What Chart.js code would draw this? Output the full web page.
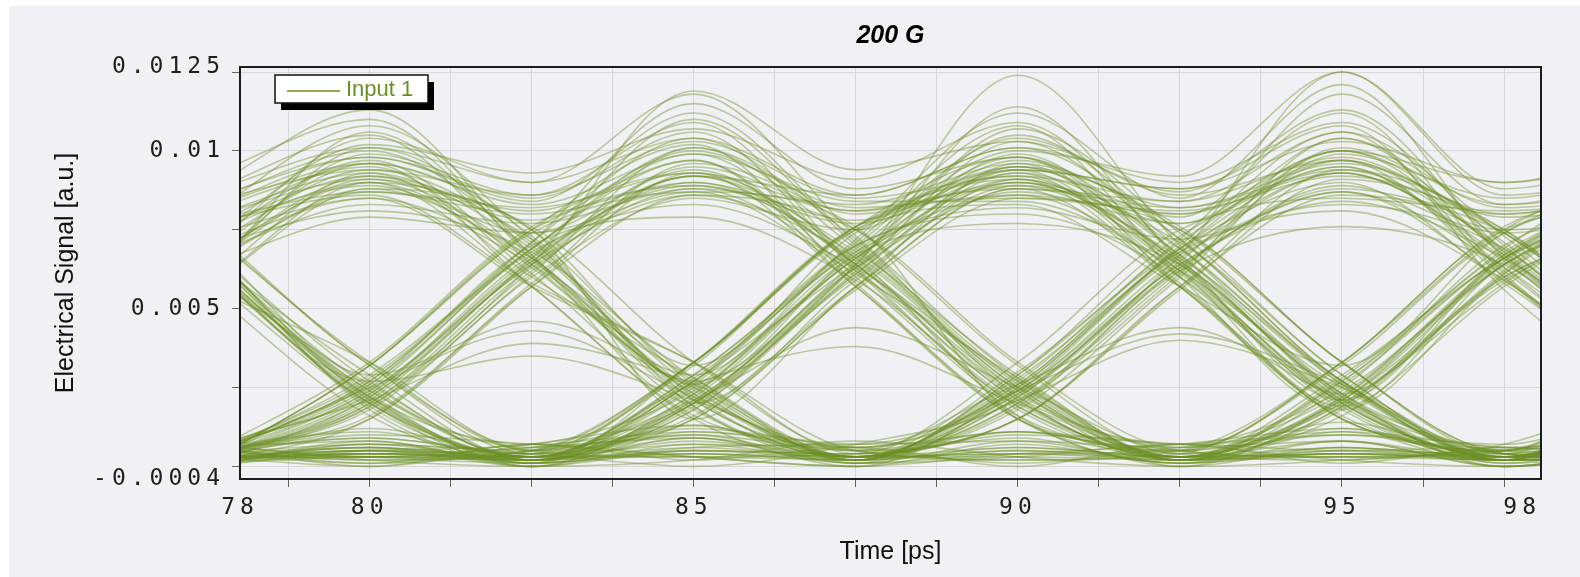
<!DOCTYPE html>
<html lang="en">
<head>
    <meta charset="UTF-8">
    <title>200 G</title>
    <style>
        body {
            margin: 0;
            background: #ffffff;
        }
        #wrap {
            position: absolute;
            left: 9px;
            top: 6px;
            width: 1571px;
            height: 571px;
            background: #f1f0f4;
        }
    </style>
</head>
<body>
    <div id="wrap">
        <canvas id="eyeGraph"></canvas>
    </div>

    <script src="https://cdn.jsdelivr.net/npm/chart.js@4.4.1/dist/chart.umd.min.js"></script>
    <script>

    const chartTitle = "200 G";
    const seriesName = "Input 1";
    const xTitle = "Time [ps]";
    const yTitle = "Electrical Signal [a.u.]";

    // sample instants of every sweep (ps)
    const sampleTimes = [77.5, 80, 82.5, 85, 87.5, 90, 92.5, 95, 97.5, 100];

    // one sweep of the eye per array, values at sampleTimes
    const trace01 = [0.0066, 0.0092, 0.0078, 0.0101, 0.0069, 0.0025, 0.0003, 0.0006, 0.0002, 0.0023];
    const trace02 = [0.0003, 0.0020, 0.0063, 0.0088, 0.0062, 0.0021, 0.0002, 0.0027, 0.0068, 0.0090];
    const trace03 = [0.0002, 0.0004, 0.0003, 0.0027, 0.0070, 0.0104, 0.0086, 0.0097, 0.0060, 0.0022];
    const trace04 = [0.0080, 0.0108, 0.0072, 0.0019, 0.0002, 0.0005, 0.0003, 0.0029, 0.0066, 0.0085];
    const trace05 = [0.0061, 0.0026, 0.0002, 0.0018, 0.0061, 0.0095, 0.0079, 0.0118, 0.0083, 0.0096];
    const trace06 = [0.0004, 0.0028, 0.0071, 0.0115, 0.0088, 0.0098, 0.0063, 0.0020, 0.0003, 0.0004];
    const trace07 = [0.0070, 0.0085, 0.0064, 0.0024, 0.0003, 0.0030, 0.0069, 0.0090, 0.0058, 0.0021];
    const trace08 = [0.0003, 0.0006, 0.0002, 0.0008, 0.0003, 0.0022, 0.0067, 0.0125, 0.0088, 0.0100];
    const trace09 = [0.0085, 0.0098, 0.0084, 0.0112, 0.0071, 0.0027, 0.0003, 0.0004, 0.0002, 0.0005];
    const trace10 = [0.0002, 0.0025, 0.0043, 0.0022, 0.0003, 0.0019, 0.0062, 0.0076, 0.0064, 0.0026];
    const trace11 = [0.0068, 0.0019, 0.0003, 0.0007, 0.0002, 0.0028, 0.0068, 0.0093, 0.0075, 0.0082];
    const trace12 = [0.0003, 0.0003, 0.0002, 0.0021, 0.0064, 0.0124, 0.0070, 0.0026, 0.0003, 0.0022];
    const trace13 = [0.0088, 0.0113, 0.0067, 0.0020, 0.0059, 0.0091, 0.0077, 0.0104, 0.0067, 0.0028];
    const trace14 = [0.0064, 0.0079, 0.0074, 0.0095, 0.0081, 0.0089, 0.0071, 0.0029, 0.0002, 0.0003];
    const trace15 = [0.0002, 0.0005, 0.0001, 0.0004, 0.0002, 0.0006, 0.0003, 0.0020, 0.0059, 0.0080];
    const trace16 = [0.0003, 0.0027, 0.0069, 0.0097, 0.0060, 0.0018, 0.0002, 0.0004, 0.0002, 0.0026];
    const trace17 = [0.0063, 0.0021, 0.0003, 0.0026, 0.0072, 0.0112, 0.0085, 0.0121, 0.0066, 0.0029];
    const trace18 = [0.0076, 0.0089, 0.0065, 0.0027, 0.0002, 0.0021, 0.0040, 0.0025, 0.0002, 0.0004];
    const trace19 = [0.0003, 0.0004, 0.0003, 0.0029, 0.0068, 0.0086, 0.0061, 0.0019, 0.0002, 0.0028];
    const trace20 = [0.0062, 0.0101, 0.0073, 0.0026, 0.0003, 0.0003, 0.0002, 0.0018, 0.0060, 0.0078];
    const trace21 = [0.0002, 0.0019, 0.0062, 0.0092, 0.0086, 0.0101, 0.0090, 0.0109, 0.0070, 0.0027];
    const trace22 = [0.0071, 0.0029, 0.0046, 0.0025, 0.0002, 0.0005, 0.0002, 0.0004, 0.0003, 0.0021];
    const trace23 = [0.0002, 0.0006, 0.0003, 0.0018, 0.0063, 0.0099, 0.0064, 0.0023, 0.0067, 0.0088];
    const trace24 = [0.0081, 0.0095, 0.0061, 0.0018, 0.0003, 0.0027, 0.0071, 0.0097, 0.0068, 0.0027];
    const trace25 = [0.0004, 0.0026, 0.0070, 0.0079, 0.0059, 0.0020, 0.0003, 0.0021, 0.0061, 0.0094];
    const trace26 = [0.0069, 0.0104, 0.0090, 0.0118, 0.0073, 0.0028, 0.0002, 0.0003, 0.0002, 0.0004];
    const trace27 = [0.0003, 0.0005, 0.0002, 0.0006, 0.0003, 0.0020, 0.0063, 0.0088, 0.0080, 0.0092];
    const trace28 = [0.0060, 0.0020, 0.0002, 0.0020, 0.0065, 0.0105, 0.0072, 0.0027, 0.0002, 0.0003];
    const trace29 = [0.0078, 0.0087, 0.0080, 0.0090, 0.0078, 0.0094, 0.0060, 0.0020, 0.0003, 0.0025];
    const trace30 = [0.0002, 0.0022, 0.0066, 0.0110, 0.0070, 0.0026, 0.0003, 0.0008, 0.0002, 0.0019];
    const trace31 = [0.0069, 0.0027, 0.0002, 0.0004, 0.0003, 0.0025, 0.0070, 0.0106, 0.0060, 0.0018];
    const trace32 = [0.0003, 0.0004, 0.0002, 0.0026, 0.0038, 0.0020, 0.0003, 0.0027, 0.0066, 0.0083];
    const trace33 = [0.0072, 0.0097, 0.0063, 0.0029, 0.0070, 0.0082, 0.0072, 0.0087, 0.0059, 0.0020];
    const trace34 = [0.0003, 0.0018, 0.0060, 0.0085, 0.0075, 0.0107, 0.0074, 0.0029, 0.0003, 0.0004];
    const trace35 = [0.0092, 0.0110, 0.0066, 0.0021, 0.0003, 0.0004, 0.0002, 0.0019, 0.0062, 0.0097];
    const trace36 = [0.0002, 0.0003, 0.0003, 0.0023, 0.0067, 0.0077, 0.0064, 0.0022, 0.0002, 0.0027];
    const trace37 = [0.0063, 0.0024, 0.0003, 0.0028, 0.0069, 0.0100, 0.0092, 0.0125, 0.0086, 0.0094];
    const trace38 = [0.0003, 0.0024, 0.0064, 0.0092, 0.0068, 0.0029, 0.0002, 0.0012, 0.0003, 0.0006];
    const trace39 = [0.0067, 0.0083, 0.0077, 0.0088, 0.0083, 0.0096, 0.0062, 0.0019, 0.0064, 0.0081];
    const trace40 = [0.0002, 0.0004, 0.0002, 0.0019, 0.0061, 0.0093, 0.0069, 0.0026, 0.0003, 0.0020];
    const trace41 = [0.0084, 0.0100, 0.0070, 0.0025, 0.0002, 0.0022, 0.0064, 0.0084, 0.0066, 0.0029];
    const trace42 = [0.0003, 0.0027, 0.0071, 0.0104, 0.0080, 0.0090, 0.0065, 0.0023, 0.0002, 0.0003];
    const trace43 = [0.0065, 0.0022, 0.0002, 0.0009, 0.0003, 0.0018, 0.0060, 0.0101, 0.0083, 0.0090];
    const trace44 = [0.0002, 0.0021, 0.0065, 0.0094, 0.0064, 0.0024, 0.0002, 0.0025, 0.0070, 0.0087];
    const trace45 = [0.0070, 0.0081, 0.0068, 0.0028, 0.0003, 0.0006, 0.0003, 0.0020, 0.0058, 0.0091];
    const trace46 = [0.0059, 0.0093, 0.0069, 0.0022, 0.0002, 0.0029, 0.0072, 0.0112, 0.0061, 0.0021];
    const trace47 = [0.0004, 0.0007, 0.0002, 0.0025, 0.0066, 0.0097, 0.0082, 0.0094, 0.0069, 0.0026];
    const trace48 = [0.0067, 0.0025, 0.0003, 0.0021, 0.0064, 0.0114, 0.0065, 0.0020, 0.0003, 0.0004];
    const trace49 = [0.0082, 0.0098, 0.0085, 0.0106, 0.0062, 0.0019, 0.0003, 0.0022, 0.0064, 0.0085];
    const trace50 = [0.0002, 0.0023, 0.0067, 0.0089, 0.0067, 0.0025, 0.0002, 0.0005, 0.0002, 0.0028];
    const trace51 = [0.0064, 0.0088, 0.0066, 0.0027, 0.0063, 0.0087, 0.0077, 0.0097, 0.0080, 0.0089];
    const trace52 = [0.0003, 0.0003, 0.0002, 0.0005, 0.0003, 0.0026, 0.0068, 0.0081, 0.0059, 0.0019];
    const trace53 = [0.0070, 0.0018, 0.0002, 0.0022, 0.0066, 0.0090, 0.0066, 0.0027, 0.0003, 0.0021];
    const trace54 = [0.0087, 0.0105, 0.0064, 0.0023, 0.0003, 0.0023, 0.0063, 0.0089, 0.0074, 0.0083];
    const trace55 = [0.0002, 0.0020, 0.0064, 0.0119, 0.0094, 0.0103, 0.0069, 0.0027, 0.0002, 0.0003];
    const trace56 = [0.0062, 0.0027, 0.0035, 0.0021, 0.0003, 0.0004, 0.0003, 0.0026, 0.0067, 0.0093];
    const trace57 = [0.0003, 0.0005, 0.0003, 0.0029, 0.0071, 0.0108, 0.0060, 0.0018, 0.0060, 0.0079];
    const trace58 = [0.0068, 0.0096, 0.0083, 0.0099, 0.0064, 0.0021, 0.0002, 0.0019, 0.0061, 0.0099];
    const trace59 = [0.0004, 0.0025, 0.0068, 0.0083, 0.0063, 0.0027, 0.0003, 0.0004, 0.0003, 0.0024];
    const trace60 = [0.0075, 0.0092, 0.0072, 0.0026, 0.0068, 0.0098, 0.0067, 0.0021, 0.0003, 0.0005];
    const trace61 = [0.0066, 0.0029, 0.0002, 0.0020, 0.0063, 0.0090, 0.0080, 0.0100, 0.0071, 0.0028];
    const trace62 = [0.0002, 0.0004, 0.0003, 0.0003, 0.0002, 0.0029, 0.0073, 0.0093, 0.0065, 0.0022];
    const trace63 = [0.0061, 0.0106, 0.0067, 0.0019, 0.0003, 0.0020, 0.0061, 0.0104, 0.0082, 0.0088];
    const trace64 = [0.0003, 0.0029, 0.0069, 0.0099, 0.0084, 0.0084, 0.0062, 0.0025, 0.0002, 0.0026];
    const trace65 = [0.0064, 0.0020, 0.0003, 0.0004, 0.0002, 0.0024, 0.0042, 0.0026, 0.0003, 0.0004];
    const trace66 = [0.0079, 0.0093, 0.0060, 0.0028, 0.0003, 0.0026, 0.0069, 0.0095, 0.0063, 0.0019];
    const trace67 = [0.0003, 0.0019, 0.0061, 0.0101, 0.0072, 0.0022, 0.0002, 0.0028, 0.0069, 0.0102];
    const trace68 = [0.0067, 0.0090, 0.0074, 0.0087, 0.0061, 0.0028, 0.0002, 0.0006, 0.0003, 0.0020];
    const trace69 = [0.0002, 0.0006, 0.0003, 0.0020, 0.0062, 0.0103, 0.0087, 0.0113, 0.0068, 0.0027];
    const trace70 = [0.0069, 0.0021, 0.0003, 0.0027, 0.0070, 0.0080, 0.0060, 0.0018, 0.0002, 0.0023];
    const trace71 = [0.0065, 0.0087, 0.0082, 0.0093, 0.0066, 0.0016, 0.0001, 0.0005, 0.0004, 0.0032];
    const trace72 = [0.0005, 0.0016, 0.0058, 0.0096, 0.0075, 0.0032, 0.0004, 0.0016, 0.0057, 0.0086];
    const trace73 = [0.0001, 0.0003, 0.0005, 0.0033, 0.0075, 0.0092, 0.0084, 0.0106, 0.0073, 0.0031];
    const trace74 = [0.0074, 0.0090, 0.0057, 0.0015, 0.0001, 0.0004, 0.0005, 0.0032, 0.0074, 0.0088];
    const trace75 = [0.0074, 0.0033, 0.0005, 0.0016, 0.0057, 0.0088, 0.0084, 0.0098, 0.0079, 0.0085];
    const trace76 = [0.0001, 0.0032, 0.0075, 0.0089, 0.0077, 0.0093, 0.0058, 0.0015, 0.0005, 0.0002];
    const trace77 = [0.0057, 0.0090, 0.0076, 0.0033, 0.0005, 0.0015, 0.0057, 0.0086, 0.0074, 0.0032];
    const trace78 = [0.0007, 0.0000, 0.0007, 0.0003, 0.0000, 0.0025, 0.0069, 0.0100, 0.0090, 0.0104];
    const trace79 = [0.0079, 0.0091, 0.0081, 0.0097, 0.0057, 0.0015, 0.0005, 0.0003, 0.0004, 0.0002];
    const trace80 = [0.0005, 0.0021, 0.0039, 0.0026, 0.0001, 0.0024, 0.0067, 0.0083, 0.0069, 0.0025];
    const trace81 = [0.0056, 0.0016, 0.0001, 0.0005, 0.0004, 0.0033, 0.0075, 0.0085, 0.0081, 0.0087];
    const trace82 = [0.0005, 0.0002, 0.0004, 0.0032, 0.0076, 0.0088, 0.0057, 0.0016, 0.0005, 0.0033];
    const trace83 = [0.0082, 0.0096, 0.0075, 0.0032, 0.0074, 0.0094, 0.0088, 0.0108, 0.0056, 0.0015];
    const trace84 = [0.0070, 0.0094, 0.0086, 0.0103, 0.0085, 0.0092, 0.0062, 0.0021, 0.0004, 0.0001];
    const trace85 = [0.0005, 0.0009, 0.0004, 0.0010, 0.0005, 0.0011, 0.0004, 0.0021, 0.0066, 0.0092];
    const trace86 = [0.0001, 0.0015, 0.0057, 0.0086, 0.0075, 0.0033, 0.0005, 0.0003, 0.0005, 0.0015];
    const trace87 = [0.0075, 0.0032, 0.0004, 0.0015, 0.0056, 0.0085, 0.0081, 0.0092, 0.0074, 0.0032];
    const trace88 = [0.0084, 0.0094, 0.0071, 0.0021, 0.0005, 0.0026, 0.0044, 0.0021, 0.0004, 0.0002];
    const trace89 = [0.0004, 0.0001, 0.0005, 0.0015, 0.0057, 0.0096, 0.0075, 0.0033, 0.0004, 0.0016];
    const trace90 = [0.0076, 0.0096, 0.0057, 0.0016, 0.0005, 0.0002, 0.0004, 0.0033, 0.0075, 0.0095];
    const trace91 = [0.0005, 0.0026, 0.0069, 0.0100, 0.0082, 0.0086, 0.0080, 0.0095, 0.0062, 0.0021];
    const trace92 = [0.0063, 0.0020, 0.0000, 0.0002, 0.0008, 0.0003, 0.0000, 0.0002, 0.0007, 0.0026];
    const trace93 = [0.0005, 0.0002, 0.0005, 0.0033, 0.0075, 0.0083, 0.0057, 0.0032, 0.0074, 0.0093];
    const trace94 = [0.0077, 0.0086, 0.0058, 0.0033, 0.0004, 0.0015, 0.0056, 0.0091, 0.0075, 0.0032];
    const trace95 = [0.0001, 0.0032, 0.0074, 0.0087, 0.0076, 0.0015, 0.0005, 0.0033, 0.0075, 0.0083];
    const trace96 = [0.0064, 0.0099, 0.0086, 0.0109, 0.0063, 0.0019, 0.0004, 0.0002, 0.0005, 0.0001];
    const trace97 = [0.0000, 0.0007, 0.0004, 0.0000, 0.0007, 0.0021, 0.0062, 0.0099, 0.0085, 0.0096];
    const trace98 = [0.0057, 0.0033, 0.0005, 0.0033, 0.0076, 0.0098, 0.0057, 0.0015, 0.0004, 0.0002];
    const trace99 = [0.0087, 0.0101, 0.0090, 0.0104, 0.0086, 0.0101, 0.0072, 0.0027, 0.0005, 0.0021];
    const trace100 = [0.0004, 0.0033, 0.0076, 0.0093, 0.0057, 0.0015, 0.0001, 0.0004, 0.0005, 0.0033];
    const trace101 = [0.0076, 0.0032, 0.0005, 0.0003, 0.0004, 0.0015, 0.0057, 0.0094, 0.0075, 0.0032];
    const trace102 = [0.0001, 0.0005, 0.0004, 0.0021, 0.0044, 0.0025, 0.0005, 0.0021, 0.0064, 0.0090];
    const trace103 = [0.0057, 0.0088, 0.0075, 0.0015, 0.0057, 0.0088, 0.0082, 0.0096, 0.0074, 0.0033];
    const trace104 = [0.0005, 0.0015, 0.0057, 0.0093, 0.0081, 0.0095, 0.0076, 0.0033, 0.0004, 0.0002];
    const trace105 = [0.0073, 0.0085, 0.0057, 0.0033, 0.0005, 0.0002, 0.0005, 0.0033, 0.0076, 0.0089];
    const trace106 = [0.0004, 0.0009, 0.0004, 0.0033, 0.0076, 0.0091, 0.0057, 0.0015, 0.0005, 0.0032];
    const trace107 = [0.0068, 0.0022, 0.0001, 0.0027, 0.0064, 0.0094, 0.0088, 0.0103, 0.0090, 0.0100];
    const trace108 = [0.0001, 0.0032, 0.0075, 0.0102, 0.0058, 0.0016, 0.0005, 0.0010, 0.0004, 0.0003];
    const trace109 = [0.0072, 0.0102, 0.0093, 0.0107, 0.0091, 0.0109, 0.0066, 0.0021, 0.0066, 0.0084];
    const trace110 = [0.0005, 0.0003, 0.0001, 0.0033, 0.0076, 0.0085, 0.0075, 0.0033, 0.0005, 0.0015];
    const trace111 = [0.0000, 0.0008, 0.0001, 0.0009, 0.0000, 0.0007, 0.0001, 0.0008, 0.0000, 0.0006];
    const trace112 = [0.0006, 0.0001, 0.0007, 0.0002, 0.0006, 0.0000, 0.0007, 0.0001, 0.0006, 0.0002];
    const trace113 = [0.0002, 0.0012, 0.0003, 0.0013, 0.0002, 0.0011, 0.0003, 0.0014, 0.0002, 0.0012];
    const trace114 = [0.0004, 0.0006, 0.0000, 0.0005, 0.0004, 0.0009, 0.0000, 0.0006, 0.0003, 0.0008];
    const trace115 = [0.0001, 0.0004, 0.0006, 0.0020, 0.0060, 0.0089, 0.0064, 0.0023, 0.0006, 0.0010];
    const trace116 = [0.0066, 0.0024, 0.0006, 0.0010, 0.0001, 0.0008, 0.0006, 0.0023, 0.0065, 0.0090];
    const trace117 = [0.0007, 0.0002, 0.0000, 0.0007, 0.0006, 0.0024, 0.0066, 0.0093, 0.0066, 0.0024];
    const trace118 = [0.0003, 0.0010, 0.0007, 0.0003, 0.0000, 0.0004, 0.0007, 0.0012, 0.0001, 0.0005];
    const trace119 = [0.0065, 0.0022, 0.0007, 0.0011, 0.0006, 0.0001, 0.0006, 0.0010, 0.0007, 0.0024];
    const trace120 = [0.0000, 0.0005, 0.0007, 0.0024, 0.0067, 0.0095, 0.0067, 0.0023, 0.0000, 0.0007];
    const trace121 = [0.0006, 0.0023, 0.0066, 0.0090, 0.0065, 0.0022, 0.0007, 0.0011, 0.0000, 0.0005];
    const trace122 = [0.0001, 0.0007, 0.0005, 0.0012, 0.0007, 0.0024, 0.0064, 0.0087, 0.0063, 0.0023];
    const trace123 = [0.0007, 0.0003, 0.0006, 0.0009, 0.0001, 0.0003, 0.0007, 0.0005, 0.0006, 0.0001];
    const trace124 = [0.0064, 0.0023, 0.0000, 0.0011, 0.0006, 0.0023, 0.0065, 0.0100, 0.0067, 0.0024];
    const trace125 = [0.0002, 0.0024, 0.0065, 0.0092, 0.0064, 0.0023, 0.0006, 0.0008, 0.0000, 0.0010];
    const trace126 = [0.0006, 0.0011, 0.0001, 0.0006, 0.0007, 0.0008, 0.0001, 0.0011, 0.0006, 0.0004];
    const trace127 = [0.0000, 0.0022, 0.0064, 0.0086, 0.0066, 0.0024, 0.0000, 0.0022, 0.0066, 0.0089];
    const trace128 = [0.0065, 0.0091, 0.0066, 0.0023, 0.0006, 0.0011, 0.0007, 0.0024, 0.0064, 0.0088];
    const trace129 = [0.0006, 0.0008, 0.0000, 0.0023, 0.0066, 0.0091, 0.0065, 0.0022, 0.0001, 0.0012];
    const trace130 = [0.0003, 0.0000, 0.0007, 0.0013, 0.0003, 0.0010, 0.0007, 0.0002, 0.0000, 0.0009];

    const traces = [
        trace01, trace02, trace03, trace04, trace05, trace06, trace07, trace08, trace09, trace10,
        trace11, trace12, trace13, trace14, trace15, trace16, trace17, trace18, trace19, trace20,
        trace21, trace22, trace23, trace24, trace25, trace26, trace27, trace28, trace29, trace30,
        trace31, trace32, trace33, trace34, trace35, trace36, trace37, trace38, trace39, trace40,
        trace41, trace42, trace43, trace44, trace45, trace46, trace47, trace48, trace49, trace50,
        trace51, trace52, trace53, trace54, trace55, trace56, trace57, trace58, trace59, trace60,
        trace61, trace62, trace63, trace64, trace65, trace66, trace67, trace68, trace69, trace70,
        trace71, trace72, trace73, trace74, trace75, trace76, trace77, trace78, trace79, trace80,
        trace81, trace82, trace83, trace84, trace85, trace86, trace87, trace88, trace89, trace90,
        trace91, trace92, trace93, trace94, trace95, trace96, trace97, trace98, trace99, trace100,
        trace101, trace102, trace103, trace104, trace105, trace106, trace107, trace108, trace109, trace110,
        trace111, trace112, trace113, trace114, trace115, trace116, trace117, trace118, trace119, trace120,
        trace121, trace122, trace123, trace124, trace125, trace126, trace127, trace128, trace129, trace130
    ];

    // axes: ends of the range carry the rounded end labels, as in the original tool
    const xMin = 78, xMax = 98.07;
    const xTickValues = [78, 78.75, 80, 81.25, 82.5, 83.75, 85, 86.25, 87.5, 88.75, 90, 91.25, 92.5, 93.75, 95, 96.25, 97.5, 98.07];
    const xTickLabels = ["78", "", "80", "", "", "", "85", "", "", "", "90", "", "", "", "95", "", "", "98  "];
    const yMin = -0.0004, yMax = 0.01266;
    const yTickValues = [-0.0004, 0, 0.0025, 0.005, 0.0075, 0.01, 0.0125, 0.01266];
    const yTickLabels = ["-0.0004", "", "", "0.005", "", "0.01", "", "0.0125"];

    const lineColor = "rgba(107, 142, 35, 0.42)";
    const legendColor = "rgb(107, 142, 35)";
    const gridColor = "#d8d7db";
    const tickFont = {family: "DejaVu Sans Mono", size: 23};
    const tickSpacing = "5px";

    const graphEl = document.getElementById("eyeGraph");

    // frame, legend box, and spaced-out tick digits
    const framePlugin = {
        id: "frame",
        beforeDraw(chart) {
            chart.ctx.letterSpacing = "0px";
        },
        afterDatasetsDraw(chart) {
            const ctx = chart.ctx;
            const a = chart.chartArea;
            ctx.save();
            ctx.strokeStyle = "#1c1c1c";
            ctx.lineWidth = 2;
            ctx.strokeRect(a.left, a.top, a.right - a.left, a.bottom - a.top);

            const lx = a.left + 35, ly = a.top + 8, lw = 153, lh = 28;
            ctx.fillStyle = "#000";
            ctx.fillRect(lx + 6, ly + 7, lw, lh);
            ctx.fillStyle = "#fff";
            ctx.fillRect(lx, ly, lw, lh);
            ctx.strokeStyle = "#111";
            ctx.lineWidth = 1.5;
            ctx.strokeRect(lx, ly, lw, lh);
            ctx.strokeStyle = legendColor;
            ctx.beginPath();
            ctx.moveTo(lx + 12, ly + lh / 2 + 2);
            ctx.lineTo(lx + 65, ly + lh / 2 + 2);
            ctx.stroke();
            ctx.fillStyle = legendColor;
            ctx.font = '22px "Liberation Sans"';
            ctx.textBaseline = "middle";
            ctx.fillText(seriesName, lx + 71, ly + lh / 2 + 1);
            ctx.restore();
            ctx.letterSpacing = tickSpacing;
        },
        afterDraw(chart) {
            chart.ctx.letterSpacing = "0px";
        }
    };

    function endTickColor(c, count) {
        return (c.index === 0 || c.index === count - 1) ? "rgba(0,0,0,0)" : "#666";
    }

    let chart = new Chart(graphEl.getContext("2d"), {
        type: "line",
        data: {
            datasets: traces.map(tr => ({
                label: seriesName,
                data: sampleTimes.map((t, i) => ({x: t, y: tr[i]})),
                borderColor: lineColor,
                borderWidth: 1.6,
                pointRadius: 0,
                cubicInterpolationMode: "monotone",
                fill: false
            }))
        },
        options: {
            responsive: true,
            maintainAspectRatio: false,
            animation: false,
            events: [],
            layout: {padding: {left: 0, right: 39, top: 0, bottom: 0}},
            plugins: {
                legend: {display: false},
                tooltip: {enabled: false},
                title: {
                    display: true,
                    text: chartTitle,
                    fullSize: false,
                    color: "#000",
                    font: {family: "Liberation Sans", size: 25, style: "italic", weight: "bold"},
                    padding: {top: 15, bottom: 16}
                }
            },
            scales: {
                x: {
                    type: "linear",
                    min: xMin,
                    max: xMax,
                    afterBuildTicks: scale => {
                        scale.ticks = xTickValues.map(v => ({value: v}));
                    },
                    afterFit: scale => {
                        scale.height = 98;
                        scale.paddingLeft = 0;
                        scale.paddingRight = 0;
                    },
                    border: {display: false},
                    grid: {
                        color: gridColor,
                        tickLength: 8,
                        tickColor: c => endTickColor(c, xTickValues.length)
                    },
                    ticks: {
                        autoSkip: false,
                        maxRotation: 0,
                        minRotation: 0,
                        padding: 7,
                        z: 1,
                        color: "#1e1e1e",
                        font: tickFont,
                        callback: (value, index) => xTickLabels[index]
                    },
                    title: {
                        display: true,
                        text: xTitle,
                        color: "#111",
                        font: {family: "Liberation Sans", size: 25},
                        padding: {top: 0, bottom: 10}
                    }
                },
                y: {
                    type: "linear",
                    min: yMin,
                    max: yMax,
                    afterBuildTicks: scale => {
                        scale.ticks = yTickValues.map(v => ({value: v}));
                    },
                    afterFit: scale => {
                        scale.width = 231;
                        scale.paddingTop = 0;
                        scale.paddingBottom = 0;
                    },
                    border: {display: false},
                    grid: {
                        color: gridColor,
                        tickLength: 8,
                        tickColor: c => endTickColor(c, yTickValues.length)
                    },
                    ticks: {
                        autoSkip: false,
                        padding: 7,
                        z: 1,
                        color: "#1e1e1e",
                        font: tickFont,
                        callback: (value, index) => yTickLabels[index]
                    },
                    title: {
                        display: true,
                        text: yTitle,
                        color: "#111",
                        font: {family: "Liberation Sans", size: 25},
                        padding: {top: 42, bottom: 0}
                    }
                }
            }
        },
        plugins: [framePlugin]
    });

    </script>
</body>
</html>
